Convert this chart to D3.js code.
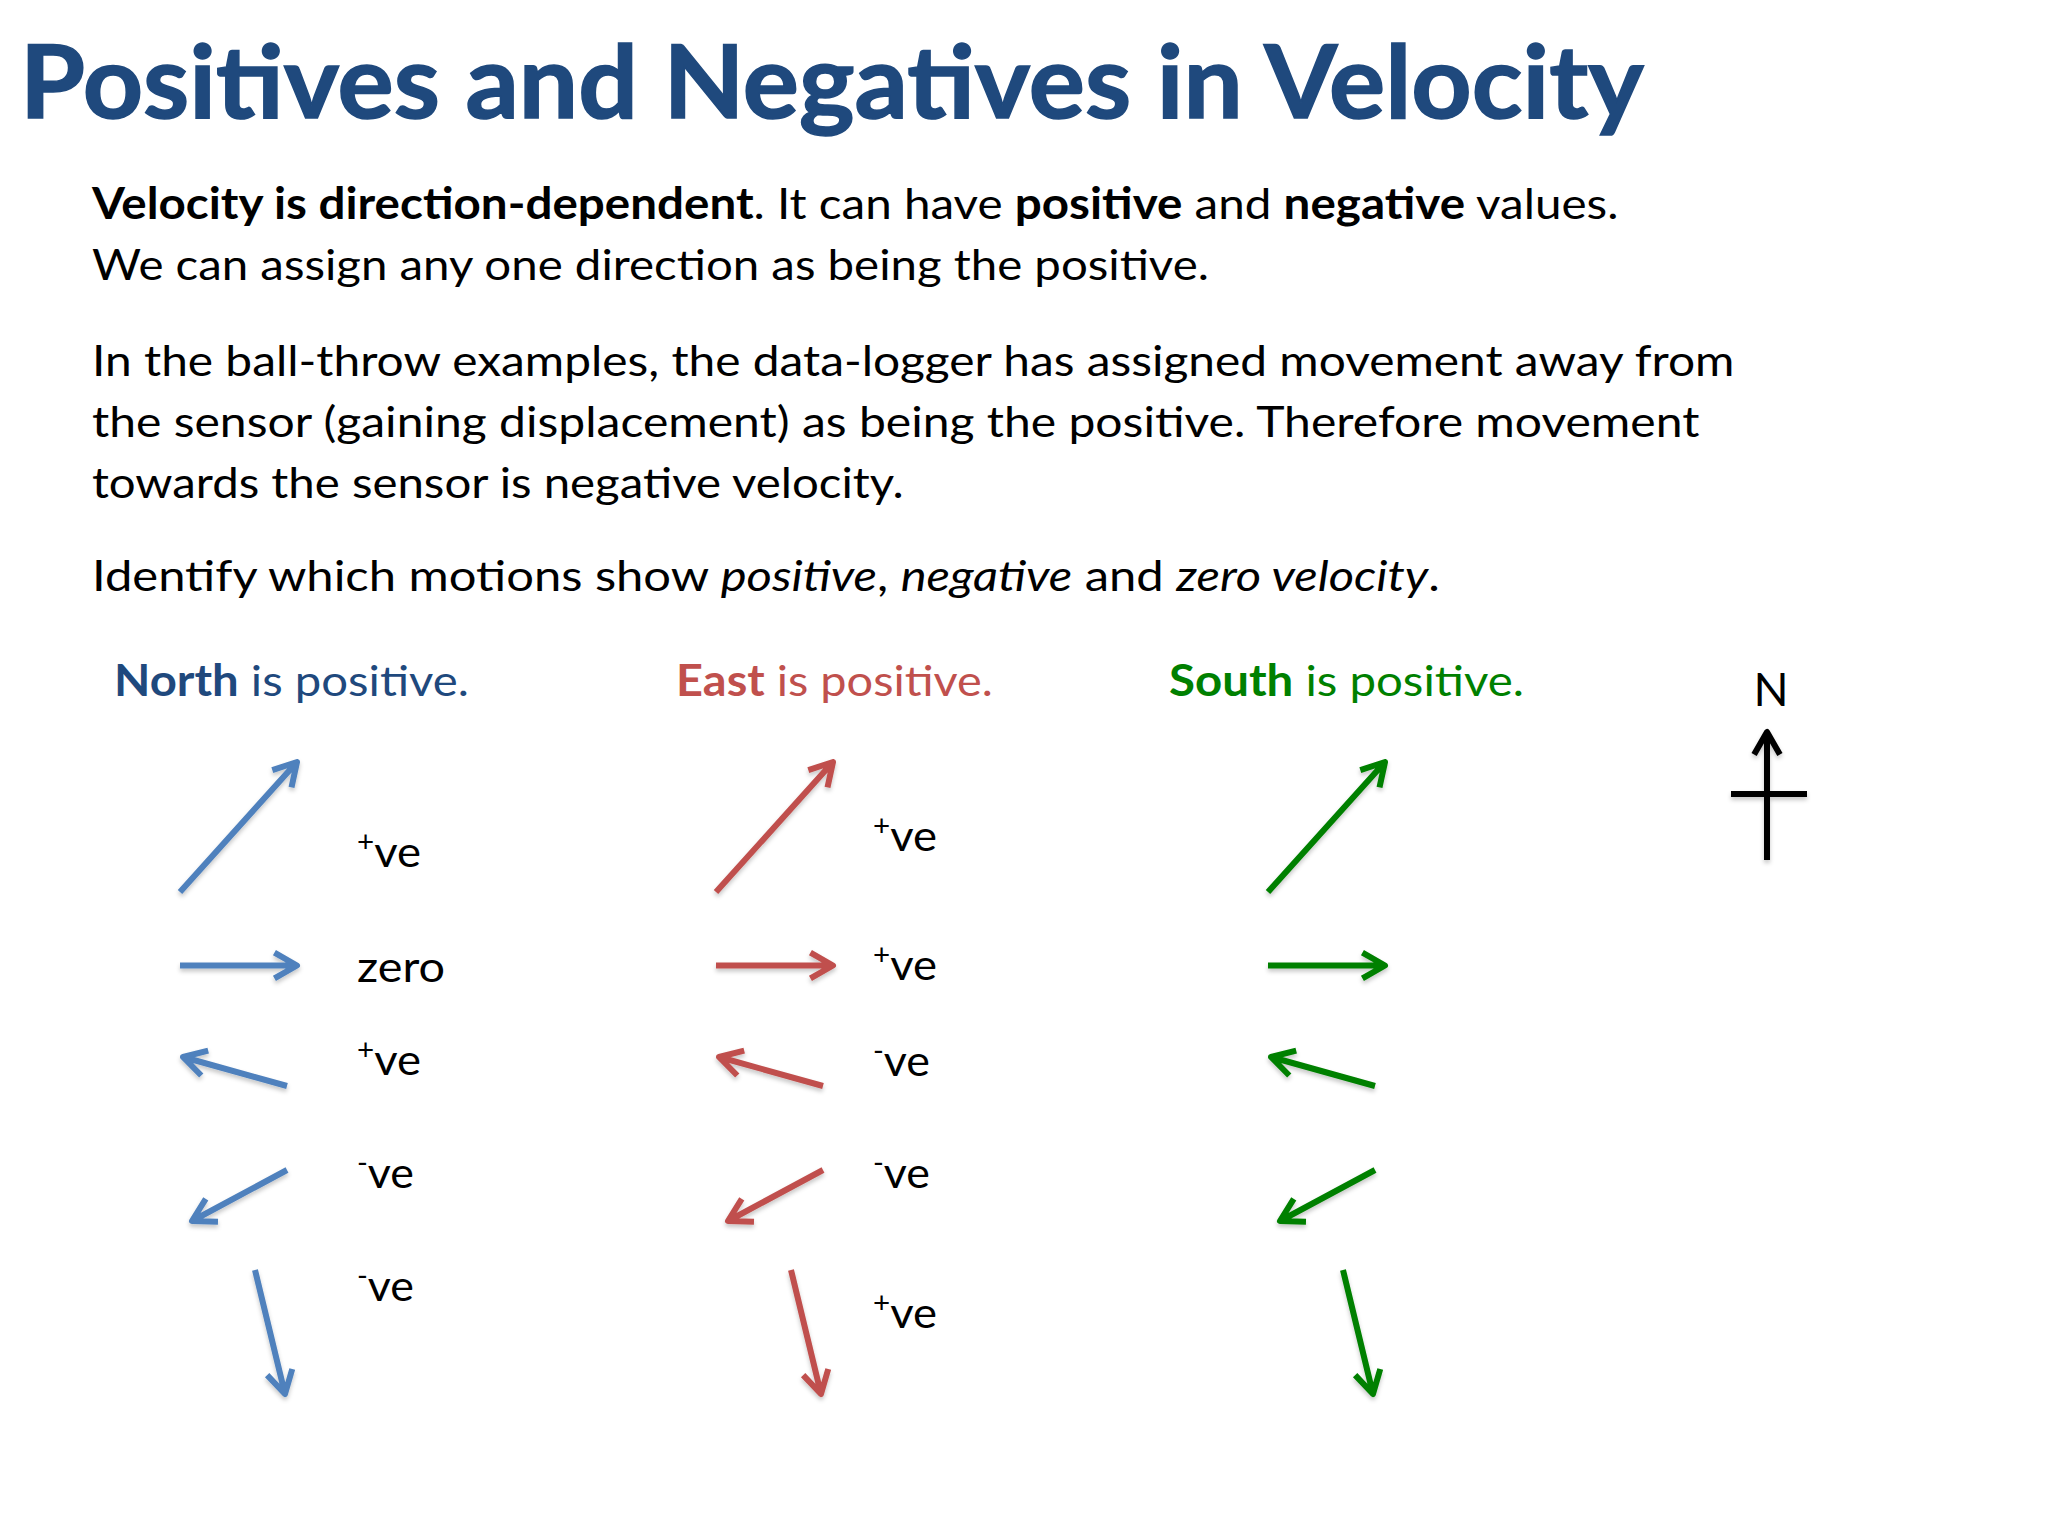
<!DOCTYPE html>
<html>
<head>
<meta charset="utf-8">
<script src="https://cdn.jsdelivr.net/npm/d3@7"></script>
<style>
  html, body { margin: 0; padding: 0; background: #fff; overflow: hidden; }
  text { font-family: Lato, "Open Sans", sans-serif; }
</style>
</head>
<body>
<div id="chart"></div>
<script>
// text content
const titleText = "Positives and Negatives in Velocity";
const introLines = [
  [["Velocity is direction-dependent", "b"], [". It can have "], ["positive", "b"], [" and "], ["negative", "b"], [" values."]],
  [["We can assign any one direction as being the positive."]],
  [["In the ball-throw examples, the data-logger has assigned movement away from"]],
  [["the sensor (gaining displacement) as being the positive. Therefore movement"]],
  [["towards the sensor is negative velocity."]],
  [["Identify which motions show "], ["positive", "i"], [", "], ["negative", "i"], [" and "], ["zero velocity", "i"], ["."]]
];
const directions = ["North", "East", "South"];
const northSigns = ["+ve", "zero", "+ve", "-ve", "-ve"];
const eastSigns = ["+ve", "+ve", "-ve", "-ve", "+ve"];
const southSigns = [];

// motions: start and end of each arrow, in chart units
const motionX1 = [0, 0, 107, 107, 75];
const motionY1 = [134, 207.5, 328, 412, 512];
const motionX2 = [117, 117, 3, 12, 105];
const motionY2 = [4, 207.5, 299, 463, 636];

// layout
const W = 2048, H = 1536;
const bodySize = 43;
const introY = [219, 280, 376, 437, 498, 591];
const introEnd = [1619, 1209, 1735, 1700, 904, 1440];
const columns = [
  { left: 180, color: "#4f81bd", head: "#1f497d", headX: 114, headEnd: 469, labelX: 357, labelY: [867, 982, 1075, 1188, 1301], signs: northSigns },
  { left: 716, color: "#c0504d", head: "#c0504d", headX: 676, headEnd: 993, labelX: 873, labelY: [851, 980, 1076, 1188, 1328], signs: eastSigns },
  { left: 1268, color: "#008000", head: "#008000", headX: 1169, headEnd: 1524, labelX: 0, labelY: [], signs: southSigns }
];
const labelWidth = { "+ve": 64, "-ve": 57, "zero": 88 };

const svg = d3.select("#chart").append("svg")
  .attr("width", W)
  .attr("height", H)
  .style("display", "block");

const defs = svg.append("defs");
const shadow = defs.append("filter").attr("id", "shade")
  .attr("filterUnits", "userSpaceOnUse")
  .attr("x", 0).attr("y", 0).attr("width", W).attr("height", H);
shadow.append("feDropShadow")
  .attr("dx", 0).attr("dy", 3).attr("stdDeviation", 2)
  .attr("flood-color", "#000").attr("flood-opacity", 0.22);

// writes runs of text and squeezes them to the wanted width (Calibri is narrower than Lato)
function fitText(runs, x, y, size, width, fill) {
  const t = svg.append("text").attr("font-size", size).attr("fill", fill).style("white-space", "pre");
  runs.forEach(r => {
    const s = t.append("tspan").text(r[0]);
    if (r[1] === "b") s.attr("font-weight", 700);
    if (r[1] === "i") s.attr("font-style", "italic");
  });
  const len = t.node().getComputedTextLength();
  t.attr("transform", "translate(" + x + "," + y + ") scale(" + (width / len) + ",1)");
  return t;
}

fitText([[titleText, "b"]], 20, 118, 102, 1624, "#1f497d")
  .attr("stroke", "#1f497d").attr("stroke-width", 1.5);

introLines.forEach((runs, i) => {
  fitText(runs, 92, introY[i], bodySize, introEnd[i] - 92, "#000");
});

columns.forEach((col, c) => {
  fitText([[directions[c], "b"], [" is positive."]], col.headX, 696, bodySize, col.headEnd - col.headX, col.head);
});

const yScale = d3.scaleLinear().domain([0, 640]).range([758, 1398]);

function arrowPath(x1, y1, x2, y2, arm, spread) {
  const a = Math.atan2(y2 - y1, x2 - x1);
  const p = d3.path();
  p.moveTo(x1, y1);
  p.lineTo(x2, y2);
  p.moveTo(x2 - arm * Math.cos(a - spread), y2 - arm * Math.sin(a - spread));
  p.lineTo(x2, y2);
  p.lineTo(x2 - arm * Math.cos(a + spread), y2 - arm * Math.sin(a + spread));
  return p.toString();
}

columns.forEach(col => {
  const xScale = d3.scaleLinear().domain([0, 120]).range([col.left, col.left + 120]);
  const g = svg.append("g").attr("filter", "url(#shade)");
  g.selectAll("path")
    .data(d3.range(motionX1.length))
    .join("path")
    .attr("d", i => arrowPath(xScale(motionX1[i]), yScale(motionY1[i]), xScale(motionX2[i]), yScale(motionY2[i]), 26, 0.52))
    .attr("fill", "none")
    .attr("stroke", col.color)
    .attr("stroke-width", 6)
    .attr("stroke-linejoin", "round")
    .attr("stroke-linecap", "butt");

  col.signs.forEach((sign, i) => {
    const t = svg.append("text").attr("font-size", bodySize).attr("fill", "#000");
    if (sign === "zero") {
      t.text(sign);
    } else {
      t.append("tspan").attr("font-size", 28).attr("dy", -15).text(sign[0]);
      t.append("tspan").attr("dy", 15).text(sign.slice(1));
    }
    const len = t.node().getComputedTextLength();
    t.attr("transform", "translate(" + col.labelX + "," + col.labelY[i] + ") scale(" + (labelWidth[sign] / len) + ",1)");
  });
});

// north marker
const compass = svg.append("g").attr("filter", "url(#shade)")
  .attr("fill", "none").attr("stroke", "#000").attr("stroke-width", 6).attr("stroke-linejoin", "round");
compass.append("path").attr("d", arrowPath(1777 - 10, 860, 1777 - 10, 732, 26, 0.52));
compass.append("line").attr("x1", 1740 - 9).attr("x2", 1816 - 9).attr("y1", 794).attr("y2", 794);
svg.append("text").attr("x", 1779 - 8).attr("y", 706).attr("text-anchor", "middle")
  .attr("font-size", 46).attr("fill", "#000").text("N");
</script>
</body>
</html>
